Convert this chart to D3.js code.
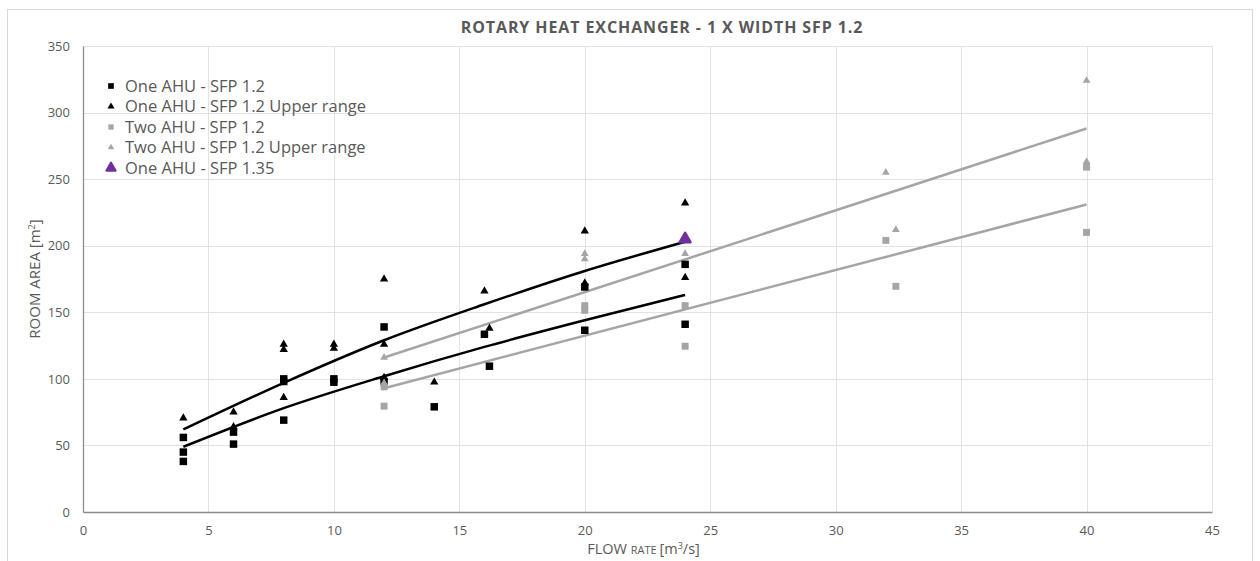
<!DOCTYPE html>
<html>
<head>
<meta charset="utf-8">
<script src="https://cdn.jsdelivr.net/npm/d3@7"></script>
<style>
  body { margin: 0; background: #fff; }
  svg text { font-family: "Open Sans", "DejaVu Sans", sans-serif; fill: #595959; }
</style>
</head>
<body>
<div id="chart"></div>
<script>
// values, [flow rate, room area]
var oneAhu = [[4,56],[4,45],[4,38],[6,60],[6,51],[8,100],[8,98],[8,69],[10,100],[10,97.5],
  [12,139],[12,98],[14,79],[16,133.5],[16.2,109.5],[20,169],[20,136.5],[24,186],[24,141]];
var oneAhuUpper = [[4,70.5],[6,75],[6,64],[8,126],[8,122],[8,86],[10,126],[10,123],[12,175],
  [12,126],[12,101],[14,97.5],[16,166],[16.2,138],[20,211],[20,172],[24,232],[24,176]];
var twoAhu = [[12,94],[12,79.5],[20,155],[20,151.5],[24,155],[24,124.5],[32,204],[32.4,169.5],
  [40,259],[40,210]];
var twoAhuUpper = [[12,116],[12,97],[20,194],[20,190],[24,194],[32,255],[32.4,212],[40,324],
  [40,263],[40,260]];
var oneAhu135 = [[24,205]];

// trend lines
var trendOneUpper = [[4,62],[8,97],[12,129],[16,156],[20,181],[24,203]];
var trendOneLower = [[4,49],[8,78],[12,102],[16,124],[20,144],[24,163]];
var trendTwoUpper = [[12,116],[40,288]];
var trendTwoLower = [[12,93],[40,231]];

var xTicks = [0,5,10,15,20,25,30,35,40,45];
var yTicks = [0,50,100,150,200,250,300,350];
var legendLabels = ["One AHU - SFP 1.2", "One AHU - SFP 1.2 Upper range", "Two AHU - SFP 1.2",
  "Two AHU - SFP 1.2 Upper range", "One AHU - SFP 1.35"];

var W = 1260, H = 561;
var margin = {top: 46, right: 48, bottom: 49, left: 83};
var width = W - margin.left - margin.right,
    height = H - margin.top - margin.bottom;

var svg = d3.select("#chart").append("svg")
  .attr("width", W).attr("height", H);

// chart frame
svg.append("rect")
  .attr("x", 7.5).attr("y", 9.5).attr("width", 1245).attr("height", 560)
  .attr("fill", "none").attr("stroke", "#d9d9d9");

var x = d3.scaleLinear().domain([0, 45]).range([0, width]);
var y = d3.scaleLinear().domain([0, 350]).range([height, 0]);

var g = svg.append("g").attr("transform", "translate(" + margin.left + "," + margin.top + ")");

// gridlines
g.append("g").selectAll("line").data(yTicks.slice(1)).enter().append("line")
  .attr("x1", 0).attr("x2", width)
  .attr("y1", function(d) { return Math.round(y(d)) + 0.5; })
  .attr("y2", function(d) { return Math.round(y(d)) + 0.5; })
  .attr("stroke", "#e3e3e3");
g.append("g").selectAll("line").data(xTicks.slice(1)).enter().append("line")
  .attr("y1", 0).attr("y2", height)
  .attr("x1", function(d) { return Math.round(x(d)) + 0.5; })
  .attr("x2", function(d) { return Math.round(x(d)) + 0.5; })
  .attr("stroke", "#e3e3e3");

// axes
var xAxis = g.append("g").attr("transform", "translate(0," + height + ")")
  .call(d3.axisBottom(x).tickValues(xTicks).tickSize(0).tickPadding(14));
var yAxis = g.append("g")
  .call(d3.axisLeft(y).tickValues(yTicks).tickSize(0).tickPadding(13));
[xAxis, yAxis].forEach(function(a) {
  a.select(".domain").attr("stroke", "#8c8c8c").attr("stroke-width", 1.3);
  a.selectAll("text").style("font-size", "13px").attr("fill", "#595959")
    .style("font-family", "'Open Sans', sans-serif");
});

// trend lines
var line = d3.line()
  .x(function(d) { return x(d[0]); })
  .y(function(d) { return y(d[1]); })
  .curve(d3.curveMonotoneX);
[[trendTwoUpper, "#a5a5a5"], [trendTwoLower, "#a5a5a5"],
 [trendOneUpper, "#000"], [trendOneLower, "#000"]].forEach(function(t) {
  g.append("path").datum(t[0]).attr("d", line)
    .attr("fill", "none").attr("stroke", t[1]).attr("stroke-width", 2.5);
});

// markers
var series = [
  {data: oneAhu, shape: d3.symbolSquare, size: 56, color: "#000"},
  {data: oneAhuUpper, shape: d3.symbolTriangle, size: 30, color: "#000"},
  {data: twoAhu, shape: d3.symbolSquare, size: 48, color: "#a5a5a5"},
  {data: twoAhuUpper, shape: d3.symbolTriangle, size: 26, color: "#a5a5a5"},
  {data: oneAhu135, shape: d3.symbolTriangle, size: 50, color: "#7030a0", stroke: 2.5}
];
series.forEach(function(s) {
  g.append("g").selectAll("path").data(s.data).enter().append("path")
    .attr("d", d3.symbol().type(s.shape).size(s.size))
    .attr("transform", function(d) { return "translate(" + x(d[0]) + "," + y(d[1]) + ")"; })
    .attr("fill", s.color)
    .attr("stroke", s.stroke ? s.color : "none")
    .attr("stroke-width", s.stroke || 0)
    .attr("stroke-linejoin", "round");
});

// legend
var legendSizes = [32, 22, 28, 18, 38];
var legend = svg.append("g").attr("transform", "translate(111,86)");
legendLabels.forEach(function(label, i) {
  var s = series[i];
  var row = legend.append("g").attr("transform", "translate(0," + (i * 20.5) + ")");
  row.append("path")
    .attr("d", d3.symbol().type(s.shape).size(legendSizes[i]))
    .attr("fill", s.color)
    .attr("stroke", s.stroke ? s.color : "none")
    .attr("stroke-width", s.stroke ? 2 : 0)
    .attr("stroke-linejoin", "round");
  row.append("text").attr("x", 14).attr("dy", "0.35em")
    .style("font-size", "16.5px").text(label);
});

// title
svg.append("text").attr("x", 662).attr("y", 33).attr("text-anchor", "middle")
  .style("font-size", "16px").style("font-weight", "bold").style("letter-spacing", "0.9px")
  .text("ROTARY HEAT EXCHANGER - 1 X WIDTH SFP 1.2");

// axis titles
var xt = svg.append("text").attr("x", margin.left + width / 2 - 4).attr("y", 554)
  .attr("text-anchor", "middle").style("font-size", "14.5px");
xt.append("tspan").text("FLOW ");
xt.append("tspan").style("font-size", "11px").text("RATE ");
xt.append("tspan").text("[m");
xt.append("tspan").style("font-size", "9px").attr("dy", "-5").text("3");
xt.append("tspan").attr("dy", "5").text("/s]");

var yt = svg.append("text").attr("transform", "translate(40," + (margin.top + height / 2) + ") rotate(-90)")
  .attr("text-anchor", "middle").style("font-size", "15px");
yt.append("tspan").text("ROOM AREA [m");
yt.append("tspan").style("font-size", "9px").attr("dy", "-5").text("2");
yt.append("tspan").attr("dy", "5").text("]");
</script>
</body>
</html>
